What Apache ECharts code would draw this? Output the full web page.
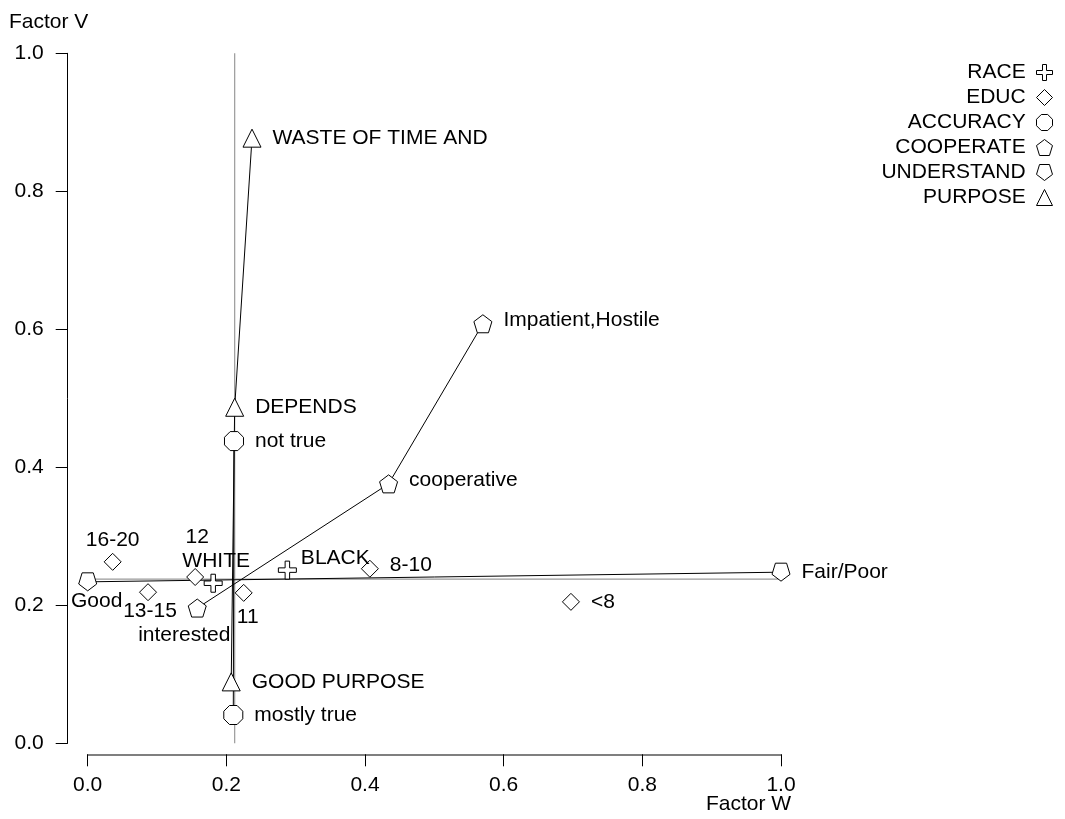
<!DOCTYPE html>
<html>
<head>
<meta charset="utf-8">
<script src="https://cdn.jsdelivr.net/npm/echarts@6/dist/echarts.min.js"></script>
<style>
  html, body { margin: 0; padding: 0; background: #fff; }
  #chart { width: 1065px; height: 819px; }
</style>
</head>
<body>
<div id="chart"></div>
<script>
// 数据：每个变量的类别及其在因子 W / 因子 V 上的坐标
const raceNames = ['WHITE', 'BLACK']
const raceW = [0.181, 0.288]
const raceV = [0.232, 0.251]

const educNames = ['16-20', '13-15', '12', '11', '8-10', '<8']
const educW = [0.036, 0.087, 0.155, 0.225, 0.407, 0.697]
const educV = [0.263, 0.219, 0.241, 0.218, 0.253, 0.205]

const accuracyNames = ['mostly true', 'not true']
const accuracyW = [0.210, 0.211]
const accuracyV = [0.041, 0.438]

const cooperateNames = ['interested', 'cooperative', 'Impatient,Hostile']
const cooperateW = [0.158, 0.434, 0.570]
const cooperateV = [0.196, 0.376, 0.608]

const understandNames = ['Good', 'Fair/Poor']
const understandW = [0.0, 1.0]
const understandV = [0.234, 0.248]

const purposeNames = ['GOOD PURPOSE', 'DEPENDS', 'WASTE OF TIME AND']
const purposeW = [0.207, 0.212, 0.237]
const purposeV = [0.089, 0.487, 0.877]

// 中心参考线
const centroidW = 0.212
const centroidV = 0.238

const axisTicks = [0, 0.2, 0.4, 0.6, 0.8, 1.0]

// 符号
const SYM = {
  cross: 'path://M3,0H5V3H8V5H5V8H3V5H0V3H3Z',
  diamond: 'path://M5,0L10,5L5,10L0,5Z',
  octagon: 'path://M3,0H7L10,3V7L7,10H3L0,7V3Z',
  pentagon: 'path://M5,0L10,3.8L8.1,10H1.9L0,3.8Z',
  pentagonDown: 'path://M1.9,0H8.1L10,6.2L5,10L0,6.2Z',
  triangle: 'path://M5,0L10,10H0Z'
}

const FONT = 'Liberation Sans, Arial, sans-serif'
const FS = 21

// 标签位置（样式，不是数据）
const labelPlace = {
  '16-20': { position: 'top', distance: 2, offset: [0, 0] },
  '12': { position: 'top', distance: 20, offset: [2, 0] },
  'WHITE': { position: 'top', distance: 2, offset: [3, 0] },
  'BLACK': { position: 'right', distance: 4, offset: [0, -12] },
  'Good': { position: 'bottom', distance: -1, offset: [9, 0] },
  '13-15': { position: 'bottom', distance: 0, offset: [2, 0] },
  'interested': { position: 'bottom', distance: 7, offset: [-13, 0] },
  '11': { position: 'bottom', distance: 5, offset: [4, 0] },
  '8-10': { position: 'right', distance: 11, offset: [0, -4] },
  'cooperative': { position: 'right', distance: 11, offset: [0, -4] },
  'Impatient,Hostile': { position: 'right', distance: 11, offset: [0, -4] }
}

function buildData (names, ws, vs) {
  return names.map((n, i) => {
    const p = labelPlace[n] || { position: 'right', distance: 11, offset: [0, 0] }
    return {
      name: n,
      value: [ws[i], vs[i]],
      label: { position: p.position, distance: p.distance, offset: p.offset }
    }
  })
}

function makeSeries (name, type, names, ws, vs, symbol, size) {
  return {
    name: name,
    type: type,
    data: buildData(names, ws, vs),
    symbol: symbol,
    symbolSize: size,
    showSymbol: true,
    itemStyle: { color: '#fff', borderColor: '#000', borderWidth: 1, opacity: 1 },
    lineStyle: { color: '#000', width: 1 },
    label: {
      show: true,
      formatter: p => p.name,
      color: '#000',
      fontSize: FS,
      fontFamily: FONT
    },
    emphasis: { disabled: true },
    z: 5
  }
}

const chart = echarts.init(document.getElementById('chart'))

chart.setOption({
  animation: false,
  backgroundColor: '#fff',
  grid: { left: 87.7, top: 53.3, width: 693.3, height: 690 },
  legend: {
    orient: 'vertical',
    right: 7,
    top: 57,
    align: 'right',
    itemWidth: 16,
    itemHeight: 16,
    itemGap: 4,
    selectedMode: false,
    formatter: n => n + ' ',
    textStyle: { color: '#000', fontSize: FS, fontFamily: FONT },
    itemStyle: { color: '#fff', borderColor: '#000', borderWidth: 1 },
    data: [
      { name: 'RACE', icon: SYM.cross },
      { name: 'EDUC', icon: SYM.diamond },
      { name: 'ACCURACY', icon: SYM.octagon },
      { name: 'COOPERATE', icon: SYM.pentagon },
      { name: 'UNDERSTAND', icon: SYM.pentagonDown },
      { name: 'PURPOSE', icon: SYM.triangle }
    ]
  },
  xAxis: {
    type: 'value',
    min: 0,
    max: 1,
    interval: 0.2,
    offset: 11,
    name: 'Factor W',
    nameLocation: 'end',
    nameGap: -75,
    nameMoveOverlap: false,
    nameTextStyle: {
      color: '#000',
      fontSize: FS,
      fontFamily: FONT,
      verticalAlign: 'top',
      padding: [39, 0, 0, 0]
    },
    axisLine: { show: true, onZero: false, lineStyle: { color: '#555', width: 1.5 } },
    axisTick: { show: true, length: 12, lineStyle: { color: '#000' } },
    axisLabel: {
      margin: 20,
      color: '#000',
      fontSize: FS,
      fontFamily: FONT,
      showMinLabel: true,
      showMaxLabel: true,
      hideOverlap: false,
      formatter: v => v.toFixed(1)
    },
    splitLine: { show: false }
  },
  yAxis: {
    type: 'value',
    min: 0,
    max: 1,
    interval: 0.2,
    offset: 20,
    name: 'Factor V',
    nameLocation: 'end',
    nameGap: 21,
    nameTextStyle: {
      color: '#000',
      fontSize: FS,
      fontFamily: FONT,
      align: 'center',
      padding: [0, 38, 0, 0]
    },
    axisLine: { show: true, onZero: false, lineStyle: { color: '#000', width: 1 } },
    axisTick: { show: true, length: 12, lineStyle: { color: '#000' } },
    axisLabel: {
      margin: 24,
      color: '#000',
      fontSize: FS,
      fontFamily: FONT,
      showMinLabel: true,
      showMaxLabel: true,
      formatter: v => v.toFixed(1)
    },
    splitLine: { show: false }
  },
  series: [
    // 参考线
    {
      name: 'refV',
      type: 'line',
      data: [[centroidW, axisTicks[0]], [centroidW, axisTicks[axisTicks.length - 1]]],
      symbol: 'none',
      lineStyle: { color: '#999', width: 1.2 },
      emphasis: { disabled: true },
      silent: true,
      z: 1
    },
    {
      name: 'refH',
      type: 'line',
      data: [[axisTicks[0], centroidV], [axisTicks[axisTicks.length - 1], centroidV]],
      symbol: 'none',
      lineStyle: { color: '#999', width: 1.2 },
      emphasis: { disabled: true },
      silent: true,
      z: 1
    },
    makeSeries('UNDERSTAND', 'line', understandNames, understandW, understandV, SYM.pentagonDown, 18),
    makeSeries('ACCURACY', 'line', accuracyNames, accuracyW, accuracyV, SYM.octagon, 19),
    makeSeries('PURPOSE', 'line', purposeNames, purposeW, purposeV, SYM.triangle, 18),
    makeSeries('COOPERATE', 'line', cooperateNames, cooperateW, cooperateV, SYM.pentagon, 18),
    makeSeries('RACE', 'scatter', raceNames, raceW, raceV, SYM.cross, 18),
    makeSeries('EDUC', 'scatter', educNames, educW, educV, SYM.diamond, 17)
  ]
})
</script>
</body>
</html>
